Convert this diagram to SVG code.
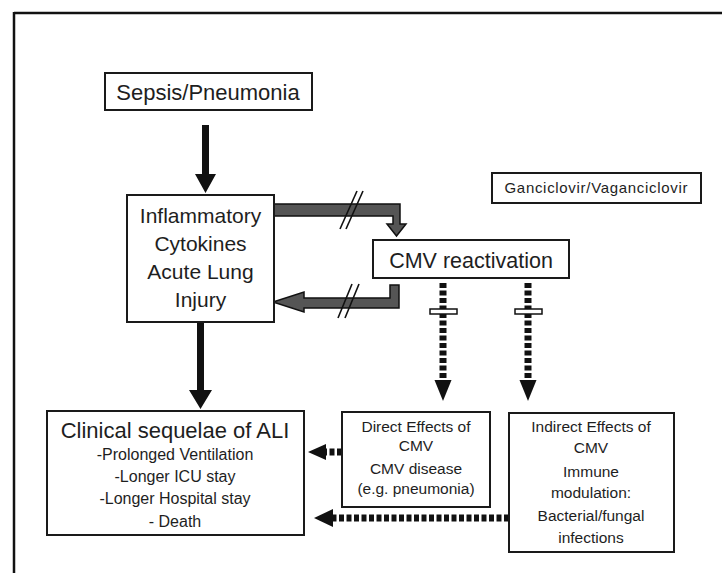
<svg xmlns="http://www.w3.org/2000/svg" width="722" height="573" viewBox="0 0 722 573">
<style>
.box{fill:#fff;stroke:#1a1a1a;stroke-width:2}
.t{font-family:"Liberation Sans",Arial,sans-serif;fill:#1e1e1e;text-anchor:middle}
.big{font-size:22px}
.mid{font-size:21px}
.sm{font-size:16px}
.xs{font-size:15.5px}
.solid{fill:#111}
.gray{fill:#555;stroke:#111;stroke-width:1.5;stroke-linejoin:miter}
.dot{stroke:#111;stroke-width:7;stroke-dasharray:5 2.5;fill:none}
.brk{stroke:#111;stroke-width:1.6;fill:none}
.bar{fill:#fff;stroke:#111;stroke-width:1.5}
</style>
<rect width="722" height="573" fill="#fff"/>
<g id="frame">
<line x1="14" y1="13" x2="722" y2="13" stroke="#111" stroke-width="2.5"/>
<line x1="14" y1="12" x2="14" y2="573" stroke="#111" stroke-width="2.5"/>
</g>
<g id="connectors">
<path class="solid" d="M202,125 H209 V174 H216 L205.5,193 L195,174 H202 Z"/>
<path class="solid" d="M197,322 H204 V390 H212 L200.5,409 L189,390 H197 Z"/>
<path class="gray" d="M274,204 H400 V224 H406 L396.5,236 L387,224 H393 V216 H274 Z"/>
<line class="brk" x1="340" y1="229" x2="357" y2="191"/>
<line class="brk" x1="346" y1="229" x2="363" y2="191"/>
<path class="gray" d="M390,285 H399 V308 H304 V312 L273,302 L304,292 V298 H390 Z"/>
<line class="brk" x1="338" y1="318" x2="352" y2="284"/>
<line class="brk" x1="345" y1="318" x2="359" y2="284"/>
<line class="dot" x1="443" y1="283" x2="443" y2="382"/>
<path class="solid" d="M434.5,380 H451.5 L443,401 Z"/>
<rect class="bar" x="430" y="309" width="27" height="5"/>
<line class="dot" x1="528" y1="283" x2="528" y2="382"/>
<path class="solid" d="M519.5,380 H536.5 L528,401 Z"/>
<rect class="bar" x="515" y="309" width="27" height="5"/>
<line class="dot" x1="342" y1="452" x2="324" y2="452"/>
<path class="solid" d="M326,444 V460 L308,452 Z"/>
<line class="dot" x1="509" y1="518" x2="331" y2="518"/>
<path class="solid" d="M333,509 V527 L314,518 Z"/>
</g>
<g id="sepsis">
<rect class="box" x="105" y="73" width="207" height="37"/>
<text class="t big" x="208" y="100">Sepsis/Pneumonia</text>
</g>
<g id="inflammatory">
<rect class="box" x="127" y="195" width="147" height="127"/>
<text class="t mid" x="200.5" y="223">Inflammatory</text>
<text class="t mid" x="200.5" y="251">Cytokines</text>
<text class="t mid" x="200.5" y="279">Acute Lung</text>
<text class="t mid" x="200.5" y="307">Injury</text>
</g>
<g id="ganciclovir">
<rect class="box" x="492" y="173" width="209" height="30"/>
<text class="t" style="font-size:15px" x="596" y="193" textLength="183" lengthAdjust="spacing">Ganciclovir/Vaganciclovir</text>
</g>
<g id="cmv">
<rect class="box" x="373" y="240" width="196" height="38"/>
<text class="t" style="font-size:21.5px" x="471" y="268">CMV reactivation</text>
</g>
<g id="clinical">
<rect class="box" x="47" y="411" width="257" height="124"/>
<text class="t big" x="175" y="438">Clinical sequelae of ALI</text>
<text class="t sm" x="175" y="460">-Prolonged Ventilation</text>
<text class="t sm" x="175" y="482">-Longer ICU stay</text>
<text class="t sm" x="175" y="504">-Longer Hospital stay</text>
<text class="t sm" x="175" y="527">- Death</text>
</g>
<g id="direct">
<rect class="box" x="342" y="412" width="148" height="95"/>
<text class="t xs" x="416" y="432">Direct Effects of</text>
<text class="t xs" x="416" y="451">CMV</text>
<text class="t xs" x="416" y="474">CMV disease</text>
<text class="t xs" x="416" y="494">(e.g. pneumonia)</text>
</g>
<g id="indirect">
<rect class="box" x="509" y="413" width="165" height="139"/>
<text class="t xs" x="591" y="432">Indirect Effects of</text>
<text class="t xs" x="591" y="453">CMV</text>
<text class="t xs" x="591" y="477">Immune</text>
<text class="t xs" x="591" y="498">modulation:</text>
<text class="t xs" x="591" y="521">Bacterial/fungal</text>
<text class="t xs" x="591" y="543">infections</text>
</g>
</svg>
